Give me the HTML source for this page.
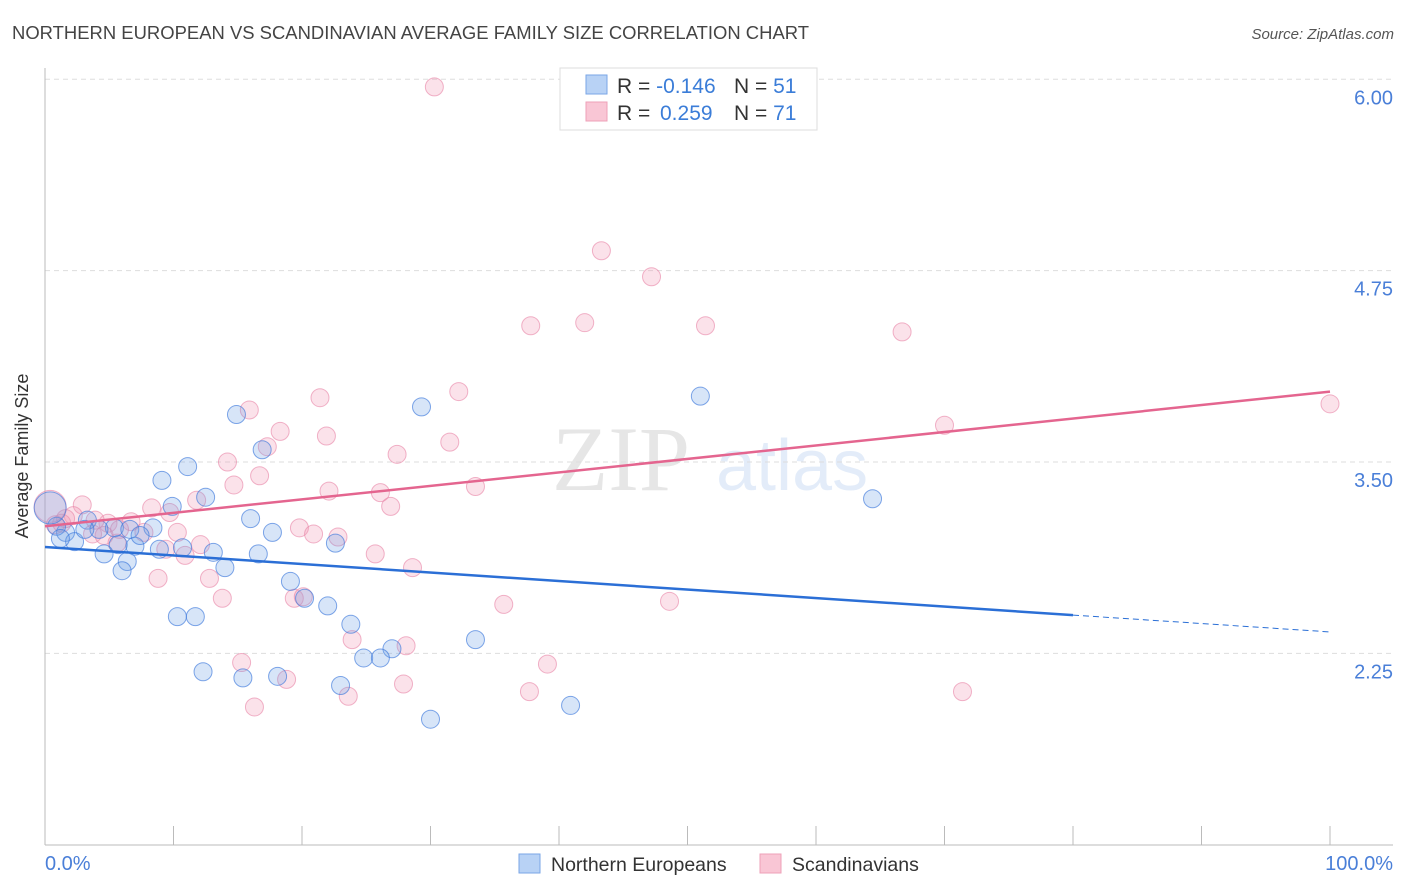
<!DOCTYPE html>
<html><head><meta charset="utf-8"><style>
body{margin:0;background:#fff;font-family:"Liberation Sans",sans-serif}
svg{display:block}
</style></head><body>
<svg id="chart" width="1406" height="892">
<text x="12" y="39" font-size="18" fill="#444" textLength="797" lengthAdjust="spacingAndGlyphs">NORTHERN EUROPEAN VS SCANDINAVIAN AVERAGE FAMILY SIZE CORRELATION CHART</text>
<text x="1394" y="39" font-size="15" fill="#555" font-style="italic" text-anchor="end">Source: ZipAtlas.com</text>
<g opacity="0.18">
<text x="552" y="490" font-size="92" font-family="Liberation Serif" fill="#777">ZIP</text>
<text x="716" y="490" font-size="72" fill="#6a9be0">atlas</text>
</g>
<g id="grid"></g><g id="axes"></g><g id="pts"></g><g id="trend"></g>
<text x="28" y="456" font-size="18" fill="#333" transform="rotate(-90 28 456)" text-anchor="middle">Average Family Size</text>
<text x="45" y="870" font-size="20" fill="#4a7fd8">0.0%</text>
<text x="1393" y="870" font-size="20" fill="#4a7fd8" text-anchor="end">100.0%</text>
<g>
<rect x="560" y="68" width="257" height="62" fill="#fff" stroke="#ddd"/>
<rect x="586" y="75" width="21" height="19" fill="#b8d2f5" stroke="#7aa6e6"/>
<rect x="586" y="102" width="21" height="19" fill="#f9c6d5" stroke="#eea0b8"/>
<text x="617" y="93" font-size="21" fill="#333">R = <tspan fill="#3b7dd8">-0.146</tspan><tspan x="734">N = </tspan><tspan fill="#3b7dd8">51</tspan></text>
<text x="617" y="120" font-size="21" fill="#333">R = <tspan fill="#3b7dd8" x="660">0.259</tspan><tspan x="734">N = </tspan><tspan fill="#3b7dd8">71</tspan></text>
</g>
<g>
<rect x="519" y="854" width="21" height="19" fill="#b8d2f5" stroke="#7aa6e6"/>
<text x="551" y="871" font-size="19.5" fill="#333">Northern Europeans</text>
<rect x="760" y="854" width="21" height="19" fill="#f9c6d5" stroke="#eea0b8"/>
<text x="792" y="871" font-size="19.5" fill="#333">Scandinavians</text>
</g>
</svg>
<script>
const yTicks=[6.00,4.75,3.50,2.25];
const yTickLabels=["6.00","4.75","3.50","2.25"];
const blueX=[14.9,29.3,51.0,16.9,11.1,9.1,12.5,9.9,64.4,16.0,8.4,3.3,5.4,4.2,6.6,1.6,17.7,0.9,2.3,1.2,5.7,7.0,8.9,10.7,13.1,16.6,22.6,4.6,6.4,14.0,6.0,19.1,20.2,22.0,10.3,11.7,23.8,33.5,27.0,24.8,26.1,12.3,15.4,18.1,23.0,40.9,30.0,3.1,7.4,0.4];
const blueY=[3.81,3.86,3.93,3.58,3.47,3.38,3.27,3.21,3.26,3.13,3.07,3.12,3.07,3.06,3.06,3.04,3.04,3.08,2.98,3.00,2.96,2.95,2.93,2.94,2.91,2.90,2.97,2.90,2.85,2.81,2.79,2.72,2.61,2.56,2.49,2.49,2.44,2.34,2.28,2.22,2.22,2.13,2.09,2.10,2.04,1.91,1.82,3.06,3.02,3.20];
const pinkX=[30.3,43.3,47.2,37.8,42.0,51.4,66.7,100,32.2,21.4,15.9,70.0,18.3,21.9,17.3,31.5,27.4,14.2,16.7,14.7,33.5,22.1,26.1,11.8,26.9,2.9,8.3,2.2,9.7,6.7,19.8,1.3,4.9,10.3,20.9,22.8,3.7,7.7,12.1,4.6,5.6,9.4,10.9,25.7,12.8,28.6,8.8,13.8,19.4,20.1,35.7,48.6,23.9,28.1,15.3,39.1,18.8,27.9,37.7,23.6,71.4,16.3,3.9,5.8,1.6,0.8,0.4];
const pinkY=[5.95,4.88,4.71,4.39,4.41,4.39,4.35,3.88,3.96,3.92,3.84,3.74,3.70,3.67,3.60,3.63,3.55,3.50,3.41,3.35,3.34,3.31,3.30,3.25,3.21,3.22,3.20,3.15,3.17,3.11,3.07,3.10,3.10,3.04,3.03,3.01,3.03,3.04,2.96,3.02,2.97,2.93,2.89,2.90,2.74,2.81,2.74,2.61,2.61,2.62,2.57,2.59,2.34,2.30,2.19,2.18,2.08,2.05,2.00,1.97,2.00,1.90,3.12,3.06,3.13,3.09,3.21];
const blueTrend=[2.945,2.50,2.39];
const pinkTrend=[3.08,3.96];
const X=p=>45+p*12.85, Y=v=>462-(v-3.5)*153.1;
const NS="http://www.w3.org/2000/svg";
function mk(tag,attrs,parent){const e=document.createElementNS(NS,tag);for(const k in attrs)e.setAttribute(k,attrs[k]);document.getElementById(parent).appendChild(e);return e;}
yTicks.forEach((t,i)=>{
 const g=mk('line',{x1:45,x2:1393,y1:Y(t),y2:Y(t),stroke:'#ddd','stroke-dasharray':'5,4'},'grid');
 
 
 const l=mk('text',{x:1393,y:Y(t)+25,'font-size':20,fill:'#4a7fd8','text-anchor':'end'},'grid');
 l.textContent=yTickLabels[i];
 
 
});
const ax=mk('line',{x1:45,x2:45,y1:68,y2:845,stroke:'#bbb'},'axes');


const bx=mk('line',{x1:45,x2:1393,y1:845,y2:845,stroke:'#bbb'},'axes');


for(let i=1;i<=10;i++){const t=mk('line',{x1:X(i*10),x2:X(i*10),y1:826,y2:845,stroke:'#bbb'},'axes');
 
 }
function dots(xs,ys,fill,stroke,name){xs.forEach((x,i)=>{const big=i===xs.length-1&&x<1;
 const c=mk('circle',{cx:X(x),cy:Y(ys[i]),r:big?16:9,fill:fill,stroke:stroke,'stroke-width':1},'pts');
 
 });}
dots(pinkX,pinkY,'rgba(242,150,180,0.28)','rgba(232,130,165,0.6)','scandinavian-point');
dots(blueX,blueY,'rgba(110,160,230,0.28)','rgba(60,120,220,0.65)','northern-european-point');
const b1=mk('line',{x1:X(0),y1:Y(blueTrend[0]),x2:X(80),y2:Y(blueTrend[1]),stroke:'#2b6fd6','stroke-width':2.5},'trend');


const b2=mk('line',{x1:X(80),y1:Y(blueTrend[1]),x2:X(100),y2:Y(blueTrend[2]),stroke:'#2b6fd6','stroke-width':1,'stroke-dasharray':'6,4'},'trend');


const p1=mk('line',{x1:X(0),y1:Y(pinkTrend[0]),x2:X(100),y2:Y(pinkTrend[1]),stroke:'#e4658f','stroke-width':2.5},'trend');


</script>
</body></html>
